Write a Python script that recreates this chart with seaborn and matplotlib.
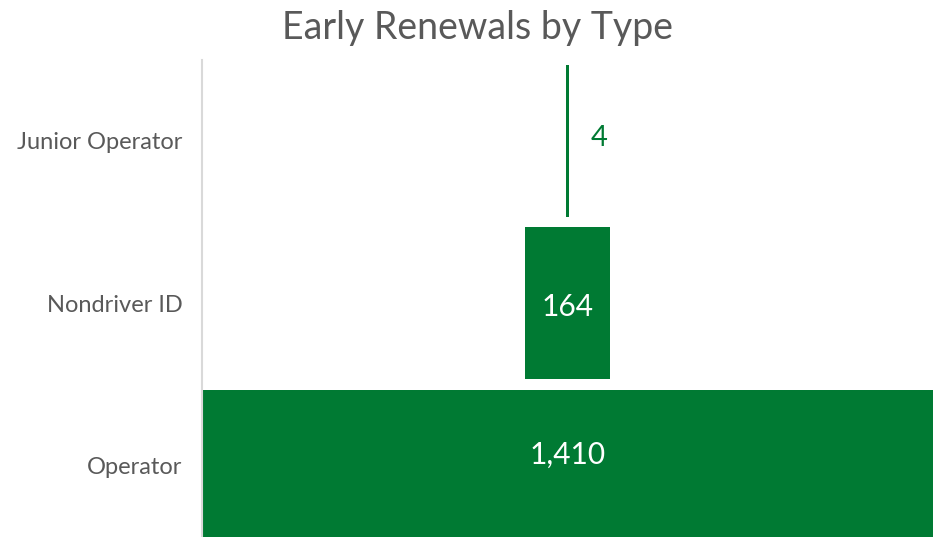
import matplotlib
matplotlib.use("Agg")
import matplotlib.pyplot as plt
import seaborn as sns
import pandas as pd

categories = ["Junior Operator", "Nondriver ID", "Operator"]
values = [4, 164, 1410]
labels = ["4", "164", "1,410"]

GREEN = "#007A33"
GRAY = "#595959"

sns.set_theme(style="white")
plt.rcParams["font.family"] = ["Lato", "DejaVu Sans"]

fig = plt.figure(figsize=(9.33, 5.37), dpi=100)
ax = fig.add_axes([202/933, -10/537, 731/933, 487.5/537])

df = pd.DataFrame({"cat": categories, "val": values})
sns.barplot(data=df, x="val", y="cat", color=GREEN, saturation=1,
            width=0.935, ax=ax, orient="h")

vmax = max(values)
nudges = [-0.015, 0.02, -0.07]
for p, v, lab, dy in zip(ax.patches, values, labels, nudges):
    p.set_x((vmax - v) / 2)
    p.set_edgecolor("none")
    cy = p.get_y() + p.get_height() / 2 + dy
    if v / vmax < 0.03:
        ax.annotate(lab, xy=(vmax / 2 + v / 2, cy), xytext=(22, 0),
                    textcoords="offset pixels",
                    ha="left", va="center", color=GREEN, fontsize=21)
    else:
        ax.text(vmax / 2, cy, lab, ha="center", va="center",
                color="white", fontsize=21.5)

ax.set_xlim(0, vmax)
ax.set_ylim(2.5, -0.5)
ax.set_xlabel("")
ax.set_ylabel("")
ax.set_xticks([])
for s in ["top", "right", "bottom"]:
    ax.spines[s].set_visible(False)
ax.spines["left"].set_color("#D9D9D9")
ax.spines["left"].set_linewidth(1.5)
ax.tick_params(axis="y", length=0, pad=14, labelsize=17, labelcolor=GRAY)

fig.text(478/933, 1 - 28/537, "Early Renewals by Type", ha="center", va="center",
         fontsize=27, color=GRAY)

fig.savefig("out.png", dpi=100)
